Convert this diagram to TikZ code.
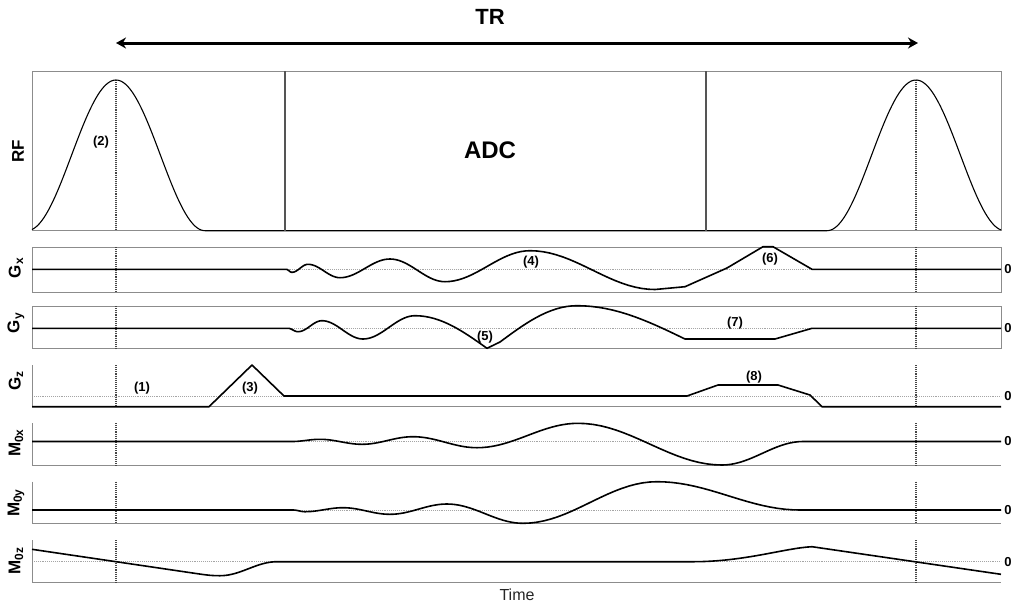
\documentclass[tikz,border=0pt]{standalone}
\usepackage{fontspec}
\setmainfont{Liberation Sans}
\usetikzlibrary{arrows.meta}
\definecolor{frameGray}{RGB}{140,140,140}
\definecolor{zeroGray}{RGB}{165,165,165}
\definecolor{tickGray}{RGB}{70,70,70}
\definecolor{adcGray}{RGB}{85,85,85}
\newcommand{\HalfCos}[4]{-- plot[domain=0:1,samples=20] ({#1+(#3-#1)*\x},{#2+(#4-#2)*(1-cos(180*\x))/2})}
\newcommand{\EaseIn}[4]{-- plot[domain=0:1,samples=16] ({#1+(#3-#1)*\x},{#2+(#4-#2)*(1-cos(90*\x))})}
\newcommand{\EaseOut}[4]{-- plot[domain=0:1,samples=16] ({#1+(#3-#1)*\x},{#2+(#4-#2)*sin(90*\x)})}
\tikzset{
  frame/.style={draw=frameGray,line width=1pt},
  zeroline/.style={draw=zeroGray,densely dotted,line width=0.9pt},
  tmark/.style={draw=tickGray,densely dotted,line width=1.1pt},
  wave/.style={draw=black,line width=1.6pt,line join=round},
  rfwave/.style={draw=black,line width=1.1pt},
  adcline/.style={draw=adcGray,line width=1.6pt},
  ylabel/.style={font=\bfseries\fontsize{17}{17}\selectfont,rotate=90,inner sep=0pt},
  zlabel/.style={font=\bfseries\fontsize{13}{13}\selectfont,inner sep=0pt},
  numlabel/.style={font=\bfseries\fontsize{13}{13}\selectfont,inner sep=0pt},
  biglabel/.style={font=\bfseries\fontsize{22}{22}\selectfont,inner sep=0pt}
}

\begin{document}
\begin{tikzpicture}[x=1pt,y=-1pt]
\useasboundingbox (0,0) rectangle (1014,606);

% zero levels
\foreach \z in {269.3,328.3,396,441.5,510,561.7}
  \draw[zeroline] (32,\z) -- (1001,\z);

% panel frames
\draw[frame] (32,71) rectangle (1001,230.7);
\draw[frame] (32,247) rectangle (1001,292);
\draw[frame] (32,306) rectangle (1001,348.5);
\draw[frame] (32,365) -- (32,406.7) -- (1001,406.7);
\draw[frame] (32,423) -- (32,465.7) -- (1001,465.7);
\draw[frame] (32,481.7) -- (32,523.3) -- (1001,523.3);
\draw[frame] (32,540) -- (32,582.3) -- (1001,582.3);

% excitation instants
\foreach \t/\b in {80/230.7,247/292,306/348.5,365/406.7,423/465.7,481.7/523.3,540/582.3} {
  \draw[tmark] (116,\t) -- (116,\b);
  \draw[tmark] (916,\t) -- (916,\b);
}

% RF and ADC
\draw[rfwave] plot[domain=32:205,samples=90] (\x,{230.7-150.7*(1+cos(180*(\x-116)/89))/2})
  -- (827,230.7)
  -- plot[domain=827:1001,samples=90] (\x,{230.7-150.7*(1+cos(180*(\x-916)/89))/2});
\draw[adcline] (285,71) -- (285,230.7);
\draw[adcline] (706,71) -- (706,230.7);

% Gx
\draw[wave] (32,269.3) -- (286,269.3)
  \HalfCos{286}{269.3}{292}{272.3} \HalfCos{292}{272.3}{308}{264.3}
  \HalfCos{308}{264.3}{340}{277.7} \HalfCos{340}{277.7}{390}{259}
  \HalfCos{390}{259}{445}{281.7} \HalfCos{445}{281.7}{530}{250.7}
  \HalfCos{530}{250.7}{655}{289.5}
  -- (685,286.7) -- (727,268) -- (763,246.7) -- (773,246.7) -- (812,269.3) -- (1001,269.3);

% Gy
\draw[wave] (32,328.3) -- (288,328.3)
  \HalfCos{288}{328.3}{298}{331.7} \HalfCos{298}{331.7}{322}{320.7}
  \HalfCos{322}{320.7}{363}{339} \HalfCos{363}{339}{415}{315.7}
  \EaseIn{415}{315.7}{487}{348.3} -- (500,342)
  \EaseOut{500}{342}{577}{305.7} \EaseIn{577}{305.7}{685}{339}
  -- (775,339) -- (812,328.3) -- (1001,328.3);

% Gz
\draw[wave] (32,406.7) -- (209,406.7) -- (252,365) -- (284,396) -- (687,396)
  -- (718,385) -- (778,385) -- (810,395) -- (822,406.7) -- (1001,406.7);

% M0x
\draw[wave] (32,441.5) -- (292,441.5)
  \HalfCos{292}{441.5}{320}{439.3} \HalfCos{320}{439.3}{362}{444.3}
  \HalfCos{362}{444.3}{413}{436.7} \HalfCos{413}{436.7}{477}{447.7}
  \HalfCos{477}{447.7}{578}{423.3} \HalfCos{578}{423.3}{722}{465}
  \HalfCos{722}{465}{803}{441.5} -- (1001,441.5);

% M0y
\draw[wave] (32,510) -- (293,510)
  \HalfCos{293}{510}{305}{511.7} \HalfCos{305}{511.7}{343}{507.7}
  \HalfCos{343}{507.7}{390}{514.3} \HalfCos{390}{514.3}{447}{504}
  \HalfCos{447}{504}{523}{523.3} \HalfCos{523}{523.3}{657}{481.7}
  \HalfCos{657}{481.7}{800}{510} -- (1001,510);

% M0z
\draw[wave] (32,549.3) -- (190,572.6)
  .. controls (205,574.8) and (210,575.7) .. (220,575.7)
  \HalfCos{220}{575.7}{277}{561.7} -- (693,561.7)
  .. controls (745,561.7) and (785,548) .. (812,546.7) -- (1001,574.3);

% TR span
\coordinate (trL) at (116,43);
\coordinate (trR) at (918,43);
\draw[line width=3pt,{Stealth[length=10pt,width=11pt]}-{Stealth[length=10pt,width=11pt]}] (trL) -- (trR);
\node[biglabel] (trLabel) at (490,17) {TR};
\node[biglabel,font=\bfseries\fontsize{24}{24}\selectfont] (adcLabel) at (490,150) {ADC};

% channel names
\node[ylabel] (labRF) at (18,151) {RF};
\node[ylabel] (labGx) at (16,268) {G\textsubscript{x}};
\node[ylabel] (labGy) at (16,323) {G\textsubscript{y}};
\node[ylabel] (labGz) at (16,381) {G\textsubscript{z}};
\node[ylabel] (labMx) at (16,443) {M\textsubscript{0x}};
\node[ylabel] (labMy) at (16,503) {M\textsubscript{0y}};
\node[ylabel] (labMz) at (16,561) {M\textsubscript{0z}};

% zero marks
\foreach \z/\n in {269.3/zGx,328.3/zGy,396/zGz,441.5/zMx,510/zMy,561.7/zMz}
  \node[zlabel] (\n) at (1008,\z) {0};

% event numbers
\node[numlabel] (ev1) at (142,388) {(1)};
\node[numlabel] (ev2) at (101,142) {(2)};
\node[numlabel] (ev3) at (250,388) {(3)};
\node[numlabel] (ev4) at (531,262) {(4)};
\node[numlabel] (ev5) at (485,337) {(5)};
\node[numlabel] (ev6) at (770,259) {(6)};
\node[numlabel] (ev7) at (735,323) {(7)};
\node[numlabel] (ev8) at (754,377) {(8)};

\node[font=\fontsize{16}{16}\selectfont,text=black!85,inner sep=0pt] (timeLabel) at (517,595) {Time};
\end{tikzpicture}
\end{document}
